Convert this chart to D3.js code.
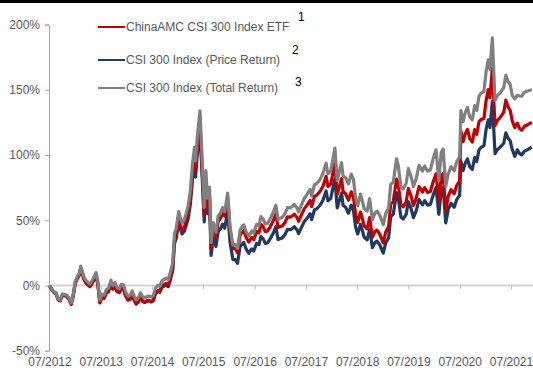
<!DOCTYPE html>
<html>
<head>
<meta charset="utf-8">
<script src="https://cdn.jsdelivr.net/npm/d3@7"></script>
<style>
  html, body { margin: 0; padding: 0; background: #fff; }
  svg { display: block; font-family: "Liberation Sans", Arial, sans-serif; }
</style>
</head>
<body>
<svg id="chart" width="533" height="370"></svg>
<script>
// Cumulative return since 07/2012, in percent
const dates = [
  "2012-07-01","2012-07-15","2012-08-01","2012-08-15","2012-09-01","2012-09-15","2012-10-01","2012-10-15",
  "2012-11-01","2012-11-15","2012-12-03","2012-12-15","2013-01-01","2013-01-15","2013-02-01","2013-02-08",
  "2013-02-20","2013-03-01","2013-03-15","2013-04-01","2013-04-15","2013-05-01","2013-05-29","2013-06-10",
  "2013-06-25","2013-07-10","2013-07-25","2013-08-10","2013-08-25","2013-09-12","2013-09-25","2013-10-10",
  "2013-10-25","2013-11-10","2013-11-25","2013-12-10","2013-12-25","2014-01-10","2014-01-25","2014-02-10",
  "2014-02-25","2014-03-10","2014-03-25","2014-04-10","2014-04-25","2014-05-10","2014-05-25","2014-06-10",
  "2014-06-25","2014-07-10","2014-07-25","2014-08-10","2014-08-25","2014-09-10","2014-09-25","2014-10-10",
  "2014-10-25","2014-11-10","2014-11-25","2014-12-08","2014-12-20","2014-12-31","2015-01-08","2015-01-15",
  "2015-01-31","2015-02-15","2015-03-01","2015-03-15","2015-03-31","2015-04-15","2015-04-30","2015-05-07",
  "2015-05-20","2015-06-08","2015-06-20","2015-07-08","2015-07-20","2015-07-31","2015-08-15","2015-08-26",
  "2015-09-10","2015-09-30","2015-10-15","2015-11-01","2015-11-15","2015-12-01","2015-12-22","2016-01-07",
  "2016-01-28","2016-02-15","2016-03-01","2016-03-20","2016-04-15","2016-05-01","2016-05-20","2016-06-10",
  "2016-06-25","2016-07-15","2016-08-01","2016-08-15","2016-09-01","2016-09-15","2016-10-01","2016-10-20",
  "2016-11-10","2016-11-29","2016-12-15","2017-01-01","2017-01-15","2017-02-01","2017-02-20","2017-03-15",
  "2017-04-10","2017-04-30","2017-05-10","2017-05-31","2017-06-20","2017-07-10","2017-07-31","2017-08-11",
  "2017-08-31","2017-09-15","2017-10-10","2017-10-31","2017-11-22","2017-12-05","2017-12-25","2018-01-10",
  "2018-01-24","2018-02-09","2018-02-28","2018-03-12","2018-03-23","2018-04-10","2018-04-30","2018-05-20",
  "2018-06-05","2018-06-20","2018-07-05","2018-07-25","2018-08-10","2018-08-20","2018-09-10","2018-09-28",
  "2018-10-18","2018-11-05","2018-11-20","2018-12-10","2019-01-03","2019-01-20","2019-02-10","2019-02-25",
  "2019-03-15","2019-04-08","2019-04-20","2019-05-09","2019-05-25","2019-06-15","2019-07-01","2019-07-20",
  "2019-08-06","2019-08-25","2019-09-15","2019-10-10","2019-10-25","2019-11-15","2019-12-05","2019-12-25",
  "2020-01-14","2020-02-03","2020-02-20","2020-03-05","2020-03-23","2020-04-10","2020-04-30","2020-05-22",
  "2020-06-10","2020-06-30","2020-07-09","2020-07-24","2020-08-10","2020-08-25","2020-09-10","2020-09-28",
  "2020-10-15","2020-10-30","2020-11-15","2020-12-01","2020-12-20","2021-01-05","2021-01-20","2021-02-01",
  "2021-02-18","2021-03-09","2021-03-25","2021-04-15","2021-05-10","2021-05-25","2021-06-10","2021-06-25",
  "2021-07-10","2021-07-28","2021-08-15","2021-09-01","2021-09-15","2021-10-05","2021-10-25","2021-11-26"
];

const priceReturn = [
  0,-2.5,-5,-5.7,-10.6,-11.4,-7,-7.4,
  -8,-9.8,-14,-8.6,2.4,5.6,9,13.4,
  9.7,5.6,2.8,0.8,-0.4,2,8,1.6,
  -13,-8.6,-9.4,-5.3,-4.5,1.6,-2.5,-0.4,
  -4.5,-5.3,-2,-2.5,-7.8,-11,-10.6,-7.4,
  -11.4,-14.3,-12.6,-9,-12.2,-13,-12.2,-11.8,
  -12.6,-11.8,-6.5,-4.5,-5.3,-1.3,-0.4,0.4,
  -0.9,4.8,11.3,32,36,43.4,48,44.7,
  39.4,41.4,46,51,62,81,93,83,
  101,118.6,91,48.7,74.7,55,62.5,23,
  37,30,41.4,43.4,47,44,56.8,34,
  19.9,19.9,17,30,33,28,24.7,28,
  26.4,32.3,31.4,37.5,35.5,32.3,32.7,35.8,
  40,45,35.2,36,36.5,38.8,43,42.8,
  45,42.4,39.8,44.7,49,51.7,55,50.5,
  58,58.6,61.5,65.5,72.4,65,66.7,75,
  81.8,59.4,66.4,70.8,61.5,60,55.4,61.5,
  57.4,45,39.5,47,41,37,35,43,
  29,33,34,31,24.8,32.5,36.5,52.8,
  54.5,71,67,52.5,51,54.5,64.2,59,
  52,57,65.8,61.8,65,61.5,62.2,69.5,
  75,54.5,73,75,48,58.5,63,60,
  66,69,95,88,94,97,91,89,
  98,95,104,106,107,120,127,121,
  141,101,104,106,109,117,113,111,
  104,99,104,101,100,103,104,106
];

const etfReturn = [
  -0.5,-3.0,-5.5,-6.2,-11.0,-11.8,-7.5,-7.9,
  -8.5,-10.2,-14.4,-9.1,1.9,5.1,8.5,12.8,
  9.2,5.1,2.3,0.3,-0.9,1.5,7.5,1.1,
  -13.4,-9.1,-9.8,-5.7,-4.8,1.3,-2.8,-0.6,
  -4.7,-5.4,-2.1,-2.6,-7.8,-11.0,-10.5,-7.3,
  -11.3,-14.1,-12.4,-8.8,-11.9,-12.7,-11.8,-11.4,
  -12.2,-11.3,-5.9,-3.8,-4.5,-0.3,0.7,1.6,
  0.4,6.3,13.0,34.1,38.3,45.9,50.6,47.4,
  42.1,44.3,49.2,54.4,65.9,85.5,98.0,87.8,
  106.4,124.8,96.6,53.4,80.6,60.6,68.9,28.2,
  43.2,36.5,48.9,51.5,55.8,53.2,67.4,43.4,
  28.3,28.3,25.1,39.0,42.2,36.9,33.3,36.8,
  35.1,41.4,40.4,46.9,44.8,41.3,41.8,45.0,
  49.5,54.8,44.3,45.2,45.7,48.1,52.6,52.4,
  54.7,51.9,49.1,54.3,58.9,61.7,65.2,60.4,
  68.4,69.0,72.1,76.3,83.7,75.8,77.6,86.4,
  93.6,69.7,77.1,81.8,71.9,70.3,65.4,71.8,
  67.5,54.3,48.4,56.3,50.0,45.7,43.5,52.0,
  37.1,41.4,42.4,39.2,32.6,40.8,45.0,62.3,
  64.1,81.6,77.3,61.9,60.3,64.0,74.3,68.7,
  61.3,66.6,75.9,71.6,75.0,71.2,72.0,79.7,
  85.6,63.9,83.7,85.8,57.2,68.5,73.4,70.3,
  76.8,80.0,118.4,110.2,116.5,119.6,112.6,109.9,
  119.5,115.9,125.5,127.3,128.0,142.1,150.1,143.8,
  166.3,122.5,126.2,128.8,132.7,142.0,137.0,134.3,
  126.0,121,124.4,120.1,119,122,123,125
];

const totalReturn = [
  0,-2.4,-4.8,-5.5,-10.3,-11.0,-6.5,-6.8,
  -7.4,-9.1,-13.3,-7.8,3.4,6.7,10.3,14.8,
  11.1,7.0,4.3,2.3,1.2,3.7,9.9,3.5,
  -11.3,-6.7,-7.4,-3.1,-2.2,4.1,0.0,2.3,
  -1.8,-2.6,0.9,0.5,-4.9,-8.1,-7.6,-4.2,
  -8.2,-11.1,-9.3,-5.5,-8.6,-9.4,-8.5,-8.0,
  -8.7,-7.8,-2.1,0.1,-0.7,3.6,4.7,5.7,
  4.4,10.5,17.5,39.5,43.8,51.7,56.7,53.2,
  47.8,50.1,55.1,60.6,72.4,92.9,105.9,95.4,
  114.7,133.9,104.6,59.9,88.1,67.0,75.3,32.8,
  48.1,40.7,53.2,55.6,59.7,56.6,70.8,46.2,
  31.1,31.3,28.3,42.8,46.5,41.2,37.8,41.8,
  40.2,46.9,46.0,52.8,50.6,47.1,47.6,51.1,
  55.9,61.5,50.7,51.6,52.3,54.9,59.6,59.5,
  62.1,59.2,56.4,61.9,66.8,70.0,73.7,68.7,
  77.2,78.0,81.3,85.9,93.8,85.5,87.5,97.2,
  105.3,80.4,88.8,94.1,83.8,82.6,77.9,85.4,
  81.1,67.2,61.2,70.1,63.5,59.0,57.0,66.5,
  50.5,55.5,56.9,53.6,46.5,55.1,59.1,77.6,
  79.0,97.1,92.1,75.5,74.0,78.2,89.5,83.7,
  75.8,81.7,92.1,87.7,91.6,87.7,88.7,97.4,
  104.0,80.3,102.1,104.5,76.0,85.6,91.1,87.8,
  95.0,98.7,134.0,125.6,132.9,136.5,129.3,127.0,
  137.8,134.2,145.1,147.5,148.8,164.4,172.9,165.7,
  189.8,141.7,145.4,147.8,151.5,161.1,156.3,154.0,
  145.6,143,145.8,145.2,145,148,149,150
];

const seriesNames = [
  "ChinaAMC CSI 300 Index ETF",
  "CSI 300 Index (Price Return)",
  "CSI 300 Index (Total Return)"
];
const seriesNotes = ["1", "2", "3"];
const yTickValues = [-50, 0, 50, 100, 150, 200];
const xTickDates = ["2012-07-01","2013-07-01","2014-07-01","2015-07-01","2016-07-01",
                    "2017-07-01","2018-07-01","2019-07-01","2020-07-01","2021-07-01"];

const parse = d3.timeParse("%Y-%m-%d");
const t = dates.map(parse);

const svg = d3.select("#chart");

// thin black rule across the top edge
svg.append("rect").attr("x", 0).attr("y", 0).attr("width", 533).attr("height", 3).attr("fill", "#000");

const x = d3.scaleTime()
  .domain([parse("2012-07-01"), parse("2021-11-26")])
  .range([49.5, 531.8]);
const y = d3.scaleLinear().domain([-50, 200]).range([350.75, 24.5]);

// y axis
const yAxis = svg.append("g")
  .attr("transform", "translate(49,0)")
  .call(d3.axisLeft(y).tickValues(yTickValues).tickSize(4).tickPadding(5)
        .tickFormat(d => d + "%"));
yAxis.select(".domain").attr("stroke", "#a6a6a6");
yAxis.selectAll(".tick line").attr("stroke", "#a6a6a6");
yAxis.selectAll("text").attr("fill", "#595959").style("font-size", "12px")
  .style("font-family", "'Liberation Sans', Arial, sans-serif");

// x axis sits on the zero line; labels along the bottom
const xAxis = svg.append("g")
  .attr("transform", `translate(0,${y(0)})`)
  .call(d3.axisBottom(x).tickValues(xTickDates.map(parse)).tickSize(4).tickPadding(68)
        .tickFormat(d3.timeFormat("%m/%Y")));
xAxis.select(".domain").attr("stroke", "#d4d4d4").attr("stroke-width", 2)
  .attr("d", `M49,0H533`);
xAxis.selectAll(".tick line").attr("stroke", "#bfbfbf");
xAxis.selectAll("text").attr("fill", "#595959").style("font-size", "12px")
  .style("font-family", "'Liberation Sans', Arial, sans-serif");

const colors = ["#c00000", "#1f3864", "#808080"];
const values = [etfReturn, priceReturn, totalReturn];

const line = d3.line()
  .x((d, i) => x(t[i]))
  .y(d => y(d));

// price return underneath, then the ETF, total return on top
[1, 0, 2].forEach(k => {
  svg.append("path")
    .datum(values[k])
    .attr("fill", "none")
    .attr("stroke", colors[k])
    .attr("stroke-width", 3.2)
    .attr("stroke-linejoin", "round")
    .attr("d", line);
});

// legend
const legendRows = [
  { y: 27, noteX: 298, noteY: 21 },
  { y: 60, noteX: 292, noteY: 54 },
  { y: 88, noteX: 295, noteY: 86 }
];
legendRows.forEach((r, i) => {
  svg.append("line")
    .attr("x1", 98).attr("x2", 125).attr("y1", r.y).attr("y2", r.y)
    .attr("stroke", colors[i]).attr("stroke-width", 2);
  svg.append("text")
    .attr("x", 126).attr("y", r.y).attr("dy", "0.35em")
    .attr("fill", "#595959").style("font-size", "12px")
    .text(seriesNames[i]);
  svg.append("text")
    .attr("x", r.noteX).attr("y", r.noteY)
    .attr("fill", "#000").style("font-size", "12px")
    .text(seriesNotes[i]);
});
</script>
</body>
</html>
